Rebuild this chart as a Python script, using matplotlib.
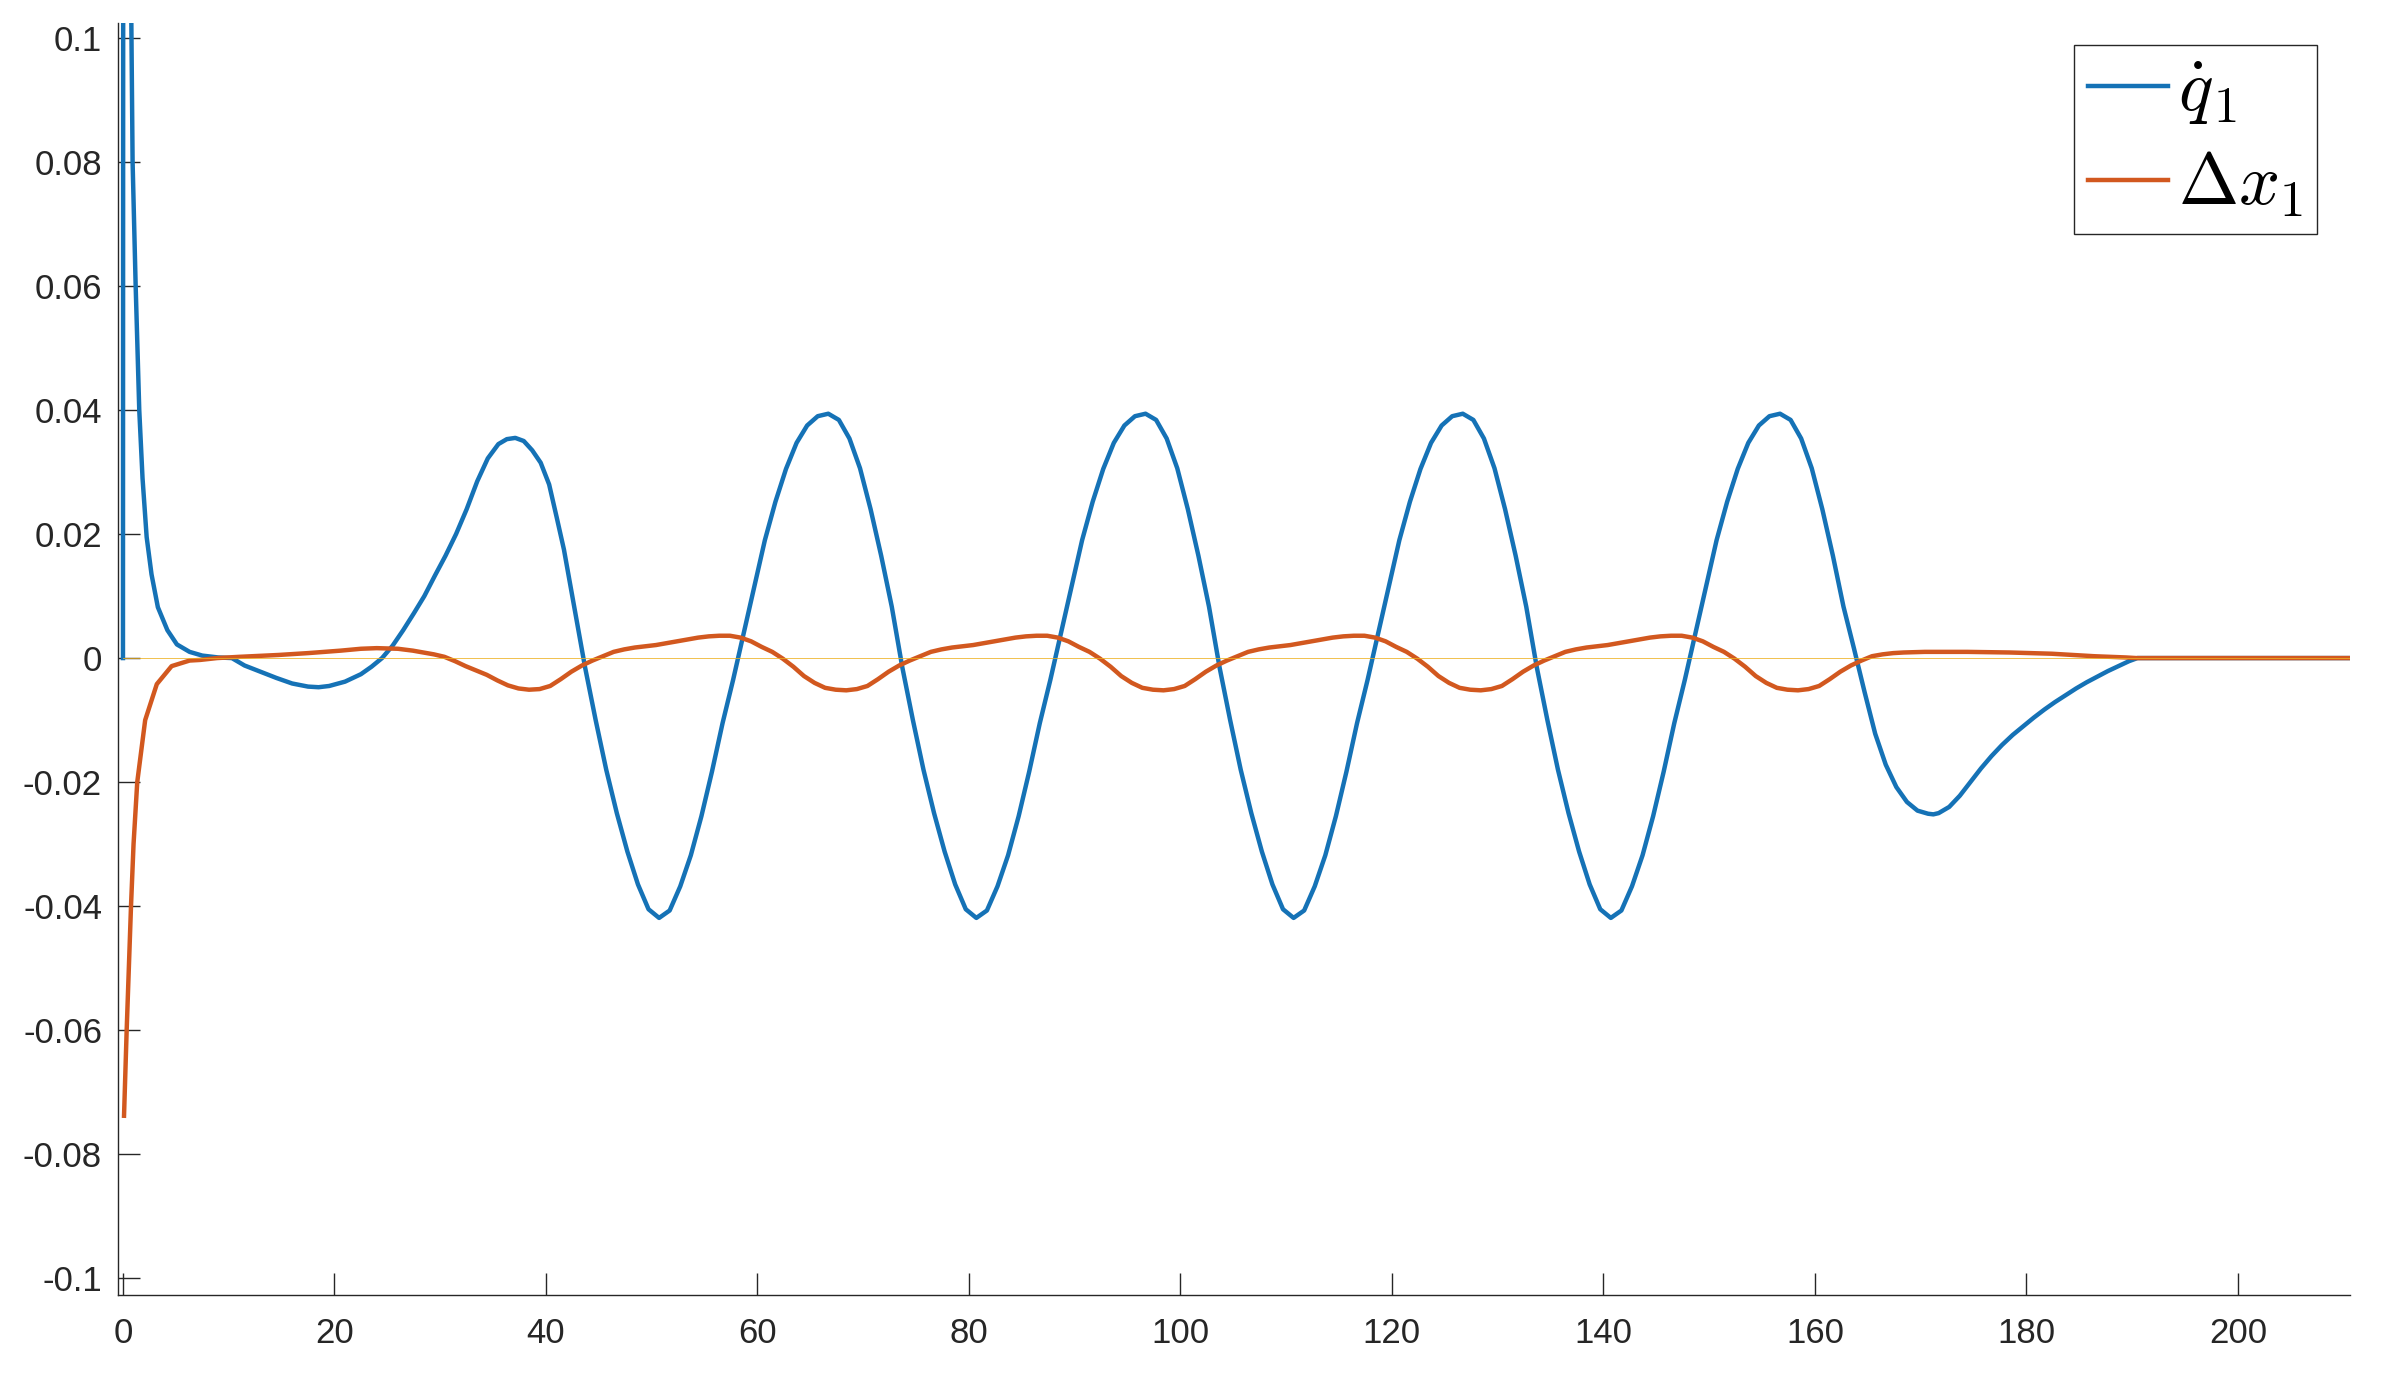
import numpy as np
import matplotlib
matplotlib.use("Agg")
import matplotlib.pyplot as plt

# ── datos ──────────────────────────────────────────────────────────────────
# q1 punto: arranque, 4 ciclos (rejilla 43.7..162.7, paso 1) y cola final
t_q1_start = [0.0, 0.05, 0.4, 0.79, 0.91, 1.2, 1.54, 1.85, 2.24, 2.7, 3.3, 4.2,
              5.1, 6.3, 7.5, 9.0, 10.3, 11.5, 13.0, 14.5, 16.0, 17.5, 18.5,
              19.5, 21.0, 22.5, 23.5, 24.5, 25.5, 26.5, 27.5, 28.5, 29.5,
              30.5, 31.5, 32.5, 33.5, 34.5, 35.5, 36.3, 37.1, 37.9, 38.7,
              39.5, 40.3, 41.0, 41.7, 42.7]
q1_start = [0.0, 0.26, 0.165, 0.1029, 0.080, 0.060, 0.040, 0.029, 0.0195,
            0.0135, 0.0082, 0.0045, 0.0022, 0.0010, 0.0004, 0.0001, 0.0,
            -0.0012, -0.0022, -0.0032, -0.0041, -0.0046, -0.0047, -0.0045,
            -0.0038, -0.0026, -0.0014, 0.0, 0.0020, 0.0045, 0.0072, 0.0100,
            0.0133, 0.0165, 0.0200, 0.0240, 0.0285, 0.0322, 0.0345, 0.0353,
            0.0355, 0.0350, 0.0335, 0.0315, 0.0280, 0.0228, 0.0175, 0.0080]

t_q1_cyc = np.arange(43.7, 163.0, 1.0)
q1_cyc = [
    -0.0015, -0.0100, -0.0180, -0.0250, -0.0312, -0.0365, -0.0405, -0.0419,
    -0.0407, -0.0368, -0.0318, -0.0255, -0.0183, -0.0105, -0.0035, 0.0040,
    0.0115, 0.0190, 0.0252, 0.0305, 0.0347, 0.0375, 0.0390, 0.0394, 0.0384,
    0.0354, 0.0306, 0.0240, 0.0165, 0.0083,
    -0.0015, -0.0100, -0.0180, -0.0250, -0.0312, -0.0365, -0.0405, -0.0419,
    -0.0407, -0.0368, -0.0318, -0.0255, -0.0183, -0.0105, -0.0035, 0.0040,
    0.0115, 0.0190, 0.0252, 0.0305, 0.0347, 0.0375, 0.0390, 0.0394, 0.0384,
    0.0354, 0.0306, 0.0240, 0.0165, 0.0083,
    -0.0015, -0.0100, -0.0180, -0.0250, -0.0312, -0.0365, -0.0405, -0.0419,
    -0.0407, -0.0368, -0.0318, -0.0255, -0.0183, -0.0105, -0.0035, 0.0040,
    0.0115, 0.0190, 0.0252, 0.0305, 0.0347, 0.0375, 0.0390, 0.0394, 0.0384,
    0.0354, 0.0306, 0.0240, 0.0165, 0.0083,
    -0.0015, -0.0100, -0.0180, -0.0250, -0.0312, -0.0365, -0.0405, -0.0419,
    -0.0407, -0.0368, -0.0318, -0.0255, -0.0183, -0.0105, -0.0035, 0.0040,
    0.0115, 0.0190, 0.0252, 0.0305, 0.0347, 0.0375, 0.0390, 0.0394, 0.0384,
    0.0354, 0.0306, 0.0240, 0.0165, 0.0083,
]

t_q1_tail = [163.7, 164.7, 165.7, 166.7, 167.7, 168.7, 169.7, 170.7, 171.2,
             171.7, 172.7, 173.7, 174.7, 175.7, 176.7, 177.7, 178.7, 179.7,
             180.7, 181.7, 182.7, 183.7, 184.7, 185.7, 186.7, 187.7, 188.7,
             189.7, 190.5, 210.6]
q1_tail = [0.0015, -0.0055, -0.0122, -0.0172, -0.0208, -0.0232, -0.0246,
           -0.0251, -0.0252, -0.0250, -0.0240, -0.0222, -0.0200, -0.0178,
           -0.0158, -0.0140, -0.0124, -0.0110, -0.0096, -0.0083, -0.0071,
           -0.0060, -0.0049, -0.0039, -0.0030, -0.0021, -0.0013, -0.0005,
           0.0, 0.0]

# Delta x1: arranque, ciclos (rejilla 39.4..164.4, paso 1) y cola
t_dx_start = [0.1, 0.35, 0.76, 1.0, 1.35, 2.1, 3.2, 4.6, 6.3, 7.3, 8.9, 11.0,
              14.7, 17.5, 20.6, 22.5, 24.0, 26.0, 27.4, 28.4, 29.4, 30.4,
              31.4, 32.4, 33.4, 34.4, 35.4, 36.4, 37.4, 38.4]
dx_start = [-0.0738, -0.060, -0.040, -0.030, -0.020, -0.010, -0.0042,
            -0.0013, -0.0004, -0.0003, 0.0, 0.0002, 0.0005, 0.0008, 0.0012,
            0.0015, 0.0016, 0.0015, 0.0012, 0.0009, 0.0006, 0.0002, -0.0005,
            -0.0013, -0.0020, -0.0027, -0.0036, -0.0044, -0.0049, -0.0051]

t_dx_cyc = np.arange(39.4, 164.5, 1.0)
dx_cyc = [
    -0.0050, -0.0045, -0.0034, -0.0022, -0.0012, -0.0004, 0.0003, 0.0010,
    0.0014, 0.0017, 0.0019, 0.0021, 0.0024, 0.0027, 0.0030, 0.0033, 0.0035,
    0.0036, 0.0036, 0.0033, 0.0027, 0.0018, 0.0010, -0.0001, -0.0014,
    -0.0029, -0.0040, -0.0048, -0.0051, -0.0052,
    -0.0050, -0.0045, -0.0034, -0.0022, -0.0012, -0.0004, 0.0003, 0.0010,
    0.0014, 0.0017, 0.0019, 0.0021, 0.0024, 0.0027, 0.0030, 0.0033, 0.0035,
    0.0036, 0.0036, 0.0033, 0.0027, 0.0018, 0.0010, -0.0001, -0.0014,
    -0.0029, -0.0040, -0.0048, -0.0051, -0.0052,
    -0.0050, -0.0045, -0.0034, -0.0022, -0.0012, -0.0004, 0.0003, 0.0010,
    0.0014, 0.0017, 0.0019, 0.0021, 0.0024, 0.0027, 0.0030, 0.0033, 0.0035,
    0.0036, 0.0036, 0.0033, 0.0027, 0.0018, 0.0010, -0.0001, -0.0014,
    -0.0029, -0.0040, -0.0048, -0.0051, -0.0052,
    -0.0050, -0.0045, -0.0034, -0.0022, -0.0012, -0.0004, 0.0003, 0.0010,
    0.0014, 0.0017, 0.0019, 0.0021, 0.0024, 0.0027, 0.0030, 0.0033, 0.0035,
    0.0036, 0.0036, 0.0033, 0.0027, 0.0018, 0.0010, -0.0001, -0.0014,
    -0.0029, -0.0040, -0.0048, -0.0051, -0.0052,
    -0.0050, -0.0045, -0.0034, -0.0022, -0.0012, -0.0004,
]

t_dx_tail = [165.4, 166.4, 167.4, 168.4, 170.4, 174.4, 178.4, 182.4, 186.4,
             189.4, 190.4, 210.6]
dx_tail = [0.0003, 0.0006, 0.0008, 0.0009, 0.0010, 0.0010, 0.0009, 0.0007,
           0.0003, 0.0001, 0.0, 0.0]

t_ref = [0.0, 210.6]
ref = [0.0, 0.0]

xticks = [0, 20, 40, 60, 80, 100, 120, 140, 160, 180, 200]
yticks = [-0.1, -0.08, -0.06, -0.04, -0.02, 0.0, 0.02, 0.04, 0.06, 0.08, 0.1]
ytick_labels = ["-0.1", "-0.08", "-0.06", "-0.04", "-0.02", "0",
                "0.02", "0.04", "0.06", "0.08", "0.1"]

# ── figura ────────────────────────────────────────────────────────────────
plt.rcParams["font.family"] = ["Liberation Sans", "DejaVu Sans"]
plt.rcParams["mathtext.fontset"] = "cm"
plt.rcParams["axes.unicode_minus"] = False

BLUE, ORANGE, YELLOW, INK = "#1572B6", "#D2581F", "#EDB120", "#262626"

t_q1 = np.concatenate([t_q1_start, t_q1_cyc, t_q1_tail])
q1 = np.concatenate([q1_start, q1_cyc, q1_tail])
t_dx = np.concatenate([t_dx_start, t_dx_cyc, t_dx_tail])
dx = np.concatenate([dx_start, dx_cyc, dx_tail])

fig = plt.figure(figsize=(23.84, 13.78), dpi=100)
ax = fig.add_axes([118 / 2384, 1 - 1295 / 1378,
                   (2350 - 118) / 2384, (1295 - 23) / 1378])

ax.plot(t_q1, q1, color=BLUE, lw=3.2, solid_joinstyle="round",
        label=r"$\dot{q}_\mathbf{1}$")
ax.plot(t_dx, dx, color=ORANGE, lw=3.2, solid_joinstyle="round",
        label=r"$\Delta x_1$")
ax.plot(t_ref, ref, color=YELLOW, lw=0.7, alpha=0.8, zorder=3)

ax.set_xlim(-0.47, 210.6)
ax.set_ylim(-0.1027, 0.1024)
ax.set_xticks(xticks)
ax.set_xticklabels([str(v) for v in xticks])
ax.set_yticks(yticks)
ax.set_yticklabels(ytick_labels)

for side in ["top", "right"]:
    ax.spines[side].set_visible(False)
for side in ["left", "bottom"]:
    ax.spines[side].set_color(INK)
    ax.spines[side].set_linewidth(1.0)

ax.tick_params(axis="both", direction="in", length=15.8, width=1.0,
               color=INK, labelcolor=INK, labelsize=25)
ax.tick_params(axis="y", pad=11.5)
ax.tick_params(axis="x", pad=15.5)

leg = ax.legend(loc="upper right",
                bbox_to_anchor=(2317 / 2384, 1 - 45 / 1378),
                bbox_transform=fig.transFigure,
                fontsize=52, handlelength=1.1, handletextpad=0.14,
                labelspacing=0.32, borderpad=0.2, borderaxespad=0.0,
                fancybox=False, framealpha=1.0)
leg.get_frame().set_edgecolor(INK)
leg.get_frame().set_linewidth(1.0)
for line in leg.get_lines():
    line.set_linewidth(3.2)

fig.savefig("out.png", dpi=100)
